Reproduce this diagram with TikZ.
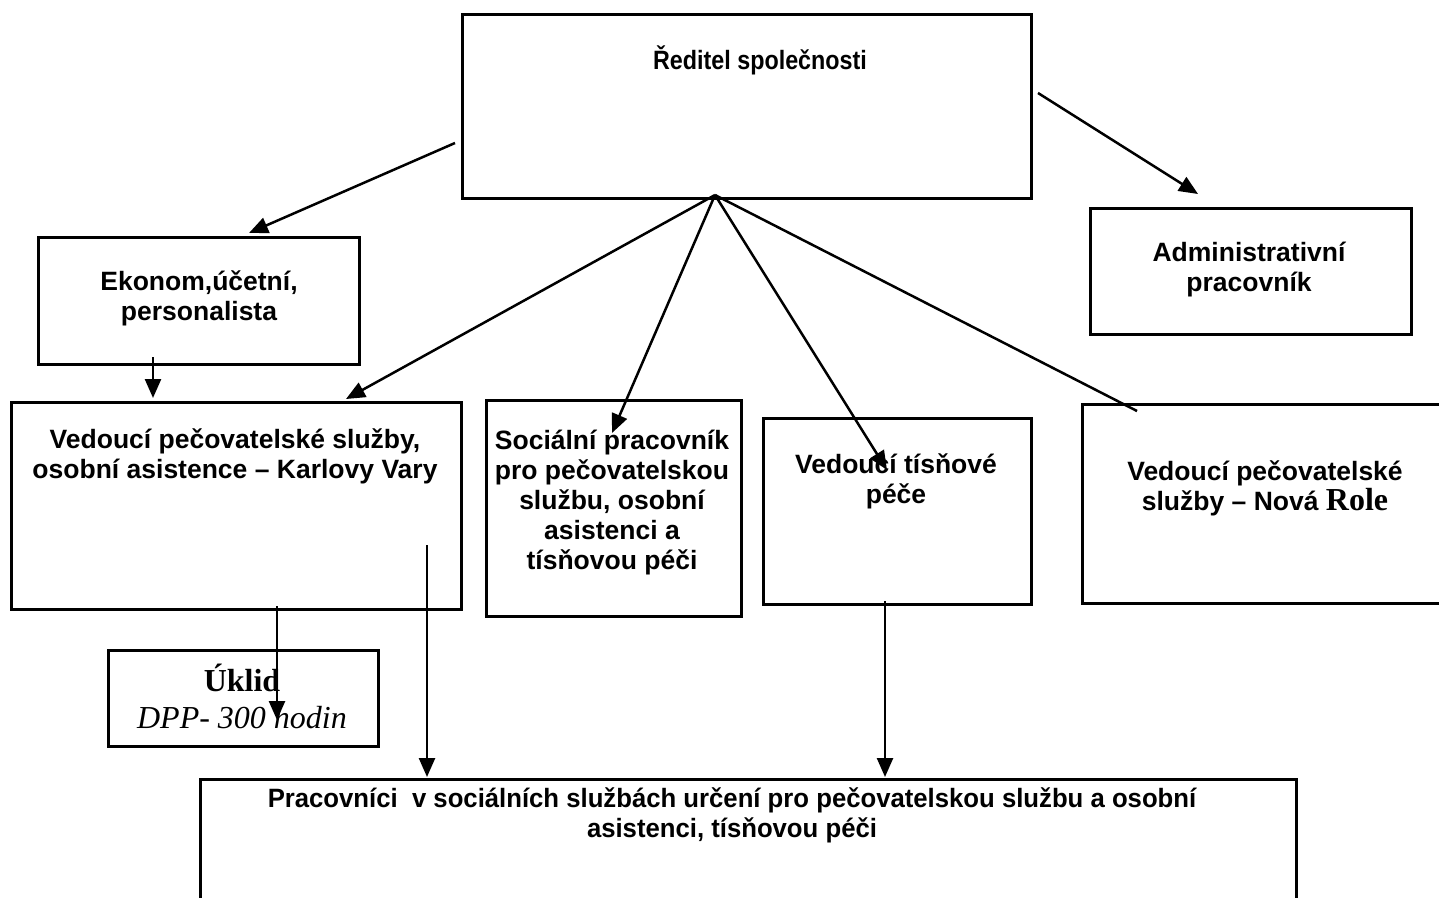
\documentclass[tikz,border=0pt]{standalone}
\usepackage{fontspec}
\setmainfont{Liberation Sans}
\newfontfamily\tnr{Liberation Serif}
\usetikzlibrary{arrows.meta}
\begin{document}
\begin{tikzpicture}[x=1pt,y=-1pt,
  box/.style={draw,line width=2.6pt,inner sep=0pt,anchor=north west},
  txt/.style={font=\fontsize{26.5}{30}\selectfont\bfseries,align=center,inner sep=0pt},
  arr/.style={line width=2.5pt,-{Triangle[length=19pt,width=16pt]}},
  ln/.style={line width=2.5pt}]
\useasboundingbox (0,0) rectangle (1439,897);
\fill[white] (0,0) rectangle (1439,897);
% boxes
\node[box,minimum width=569pt,minimum height=184pt] (dir) at (461,13) {};
\node[box,minimum width=321pt,minimum height=127pt] (eko) at (37,236) {};
\node[box,minimum width=321pt,minimum height=126pt] (adm) at (1089,207) {};
\node[box,minimum width=450pt,minimum height=207pt] (kv) at (10,401) {};
\node[box,minimum width=255pt,minimum height=216pt] (soc) at (485,399) {};
\node[box,minimum width=268pt,minimum height=186pt] (tis) at (762,417) {};
\node[box,minimum width=370pt,minimum height=199pt] (nr) at (1081,403) {};
\node[box,minimum width=270pt,minimum height=96pt] (ukl) at (107,649) {};
\node[box,minimum width=1096pt,minimum height=140pt] (prac) at (199,778) {};
% texts
\node[txt] (dirt) at (760,60) {\scalebox{0.88}[1]{Ředitel společnosti}};
\node[txt] (ekot) at (199,298) {Ekonom,účetní,\\personalista};
\node[txt] (admt) at (1249,270) {Administrativní\\pracovník};
\node[txt] (kvt) at (235,456) {Vedoucí pečovatelské služby,\\osobní asistence – Karlovy Vary};
\node[txt] (soct) at (612,503) {Sociální pracovník\\pro pečovatelskou\\službu, osobní\\asistenci a\\tísňovou péči};
\node[txt] (tist) at (896,481) {Vedoucí tísňové\\péče};
\node[txt] (nrt) at (1265,488) {Vedoucí pečovatelské\\služby – Nová {\tnr\fontsize{32}{36}\selectfont Role}};
\node[txt,font=\tnr\fontsize{32}{37}\selectfont] (uklt) at (242,696) {\textbf{Úklid}\\\textit{DPP- 300 hodin}};
\node[txt] (pract) at (732,815) {\scalebox{0.97}[1]{Pracovníci\ \ v sociálních službách určení pro pečovatelskou službu a osobní}\\\scalebox{0.97}[1]{asistenci, tísňovou péči}};
% connector points
\coordinate (fan) at (715,195);
\coordinate (dl) at (455,143);
\coordinate (ekotop) at (249,233);
\coordinate (dr) at (1038,93);
\coordinate (admtop) at (1198,194);
\coordinate (kvtop) at (346,399);
\coordinate (socin) at (612,433);
\coordinate (tisin) at (887,470);
\coordinate (nrtop) at (1137,411);
\coordinate (ekob) at (153,357);
\coordinate (kvtop2) at (153,398);
\coordinate (kvb) at (277,606);
\coordinate (uklin) at (277,720);
\coordinate (kvin) at (427,545);
\coordinate (prtop1) at (427,777);
\coordinate (tisb) at (885,601);
\coordinate (prtop2) at (885,777);
% connectors
\draw[arr] (dl) -- (ekotop);
\draw[arr] (dr) -- (admtop);
\draw[arr] (fan) -- (kvtop);
\draw[arr] (fan) -- (socin);
\draw[arr] (fan) -- (tisin);
\draw[ln] (fan) -- (nrtop);
\draw[arr] (ekob) -- (kvtop2);
\draw[arr] (kvb) -- (uklin);
\draw[arr] (kvin) -- (prtop1);
\draw[arr] (tisb) -- (prtop2);
\end{tikzpicture}
\end{document}
